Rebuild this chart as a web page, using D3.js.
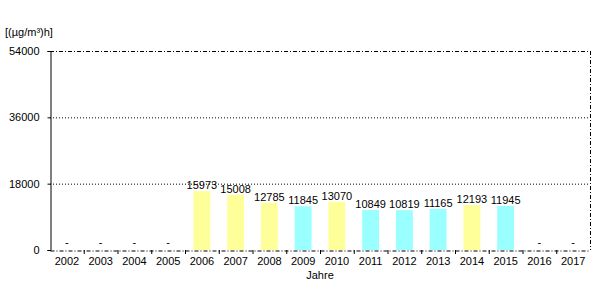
<!DOCTYPE html>
<html>
<head>
<meta charset="utf-8">
<script src="https://cdn.jsdelivr.net/npm/d3@7"></script>
<style>
  body { margin: 0; background: #fff; }
  svg { font-family: "Liberation Sans", Arial, sans-serif; font-size: 11px; }
</style>
</head>
<body>
<svg width="600" height="300"></svg>
<script>
const years = ["2002","2003","2004","2005","2006","2007","2008","2009","2010","2011","2012","2013","2014","2015","2016","2017"];
const values = [null, null, null, null, 15973, 15008, 12785, 11845, 13070, 10849, 10819, 11165, 12193, 11945, null, null];
const kind = ["", "", "", "", "y", "y", "y", "c", "y", "c", "c", "c", "y", "c", "", ""];
const yTicks = [0, 18000, 36000, 54000];

const colors = { y: "#ffff99", c: "#99ffff" };
const svg = d3.select("svg");
const mLeft = 50, mRight = 590, mTop = 51, mBottom = 250;

const x = d3.scaleBand().domain(years).range([mLeft, mRight]);
const y = d3.scaleLinear().domain([0, 54000]).range([mBottom, mTop]);

const data = years.map((yr, i) => ({ yr, v: values[i], k: kind[i] }));

// grid lines
svg.selectAll("line.grid")
    .data(yTicks.filter(t => t > 0 && t < 54000))
    .enter()
    .append("line")
    .attr("x1", mLeft).attr("x2", mRight)
    .attr("y1", d => y(d) + 0.5).attr("y2", d => y(d) + 0.5)
    .attr("stroke", "black")
    .attr("stroke-dasharray", "1,2");

// frame: top, right dash-dot
const dashDot = "4,2,1,2";
svg.append("line").attr("x1", mLeft).attr("x2", mRight).attr("y1", mTop + 0.5).attr("y2", mTop + 0.5)
    .attr("stroke", "black").attr("stroke-dasharray", dashDot);
svg.append("line").attr("x1", mRight + 0.5).attr("x2", mRight + 0.5).attr("y1", mTop).attr("y2", mBottom)
    .attr("stroke", "black").attr("stroke-dasharray", dashDot);

// bars
const bw = x.bandwidth() / 2;
svg.selectAll("rect")
    .data(data.filter(d => d.v != null))
    .enter()
    .append("rect")
    .attr("x", d => x(d.yr) + (x.bandwidth() - bw) / 2)
    .attr("width", bw)
    .attr("y", d => y(d.v))
    .attr("height", d => y(0) - y(d.v))
    .attr("fill", d => colors[d.k]);

// value labels
svg.selectAll("text.val")
    .data(data)
    .enter()
    .append("text")
    .attr("x", d => x(d.yr) + x.bandwidth() / 2)
    .attr("y", d => d.v != null ? y(d.v) - 2 : y(0) - 4)
    .attr("text-anchor", "middle")
    .text(d => d.v != null ? d.v : "-");

// bottom axis
const xAxis = svg.append("g").attr("transform", `translate(0,${mBottom + 0.5})`)
    .call(d3.axisBottom(x).tickSize(0).tickPadding(7));
xAxis.select(".domain").attr("stroke-dasharray", dashDot);
xAxis.selectAll("text").attr("font-family", "Liberation Sans, Arial, sans-serif").attr("font-size", 11).attr("fill", "black");
svg.selectAll("line.xt")
    .data(years.slice(1))
    .enter()
    .append("line")
    .attr("x1", d => x(d) + 0.5).attr("x2", d => x(d) + 0.5)
    .attr("y1", mBottom).attr("y2", mBottom + 4)
    .attr("stroke", "black");

// left axis
const yAxis = svg.append("g").attr("transform", `translate(${mLeft + 0.5},0)`)
    .call(d3.axisLeft(y).tickValues(yTicks).tickSize(3).tickPadding(8).tickFormat(d3.format("d")));
yAxis.selectAll("text").attr("font-family", "Liberation Sans, Arial, sans-serif").attr("font-size", 11).attr("fill", "black");

svg.append("text").attr("x", 5).attr("y", 36).text("[(µg/m³)h]");
svg.append("text").attr("x", (mLeft + mRight) / 2).attr("y", 279).attr("text-anchor", "middle").text("Jahre");
</script>
</body>
</html>
